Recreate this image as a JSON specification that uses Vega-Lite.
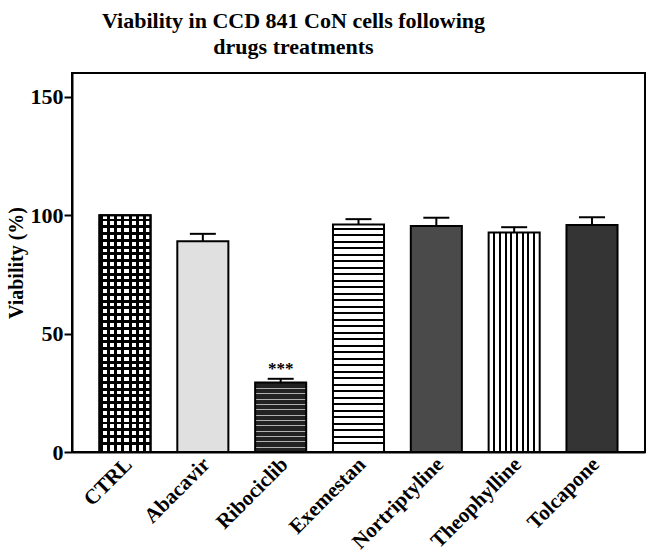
{
  "$schema": "https://vega.github.io/schema/vega-lite/v6.json",
  "autosize": "none",
  "width": 573,
  "height": 379,
  "padding": {"left": 72, "top": 73, "right": 5, "bottom": 105},
  "background": "white",
  "title": {
    "text": ["Viability in CCD 841 CoN cells following", "drugs treatments"],
    "font": "Liberation Serif",
    "fontSize": 22,
    "fontWeight": "bold",
    "lineHeight": 26,
    "color": "black",
    "anchor": "middle",
    "dx": -65,
    "offset": 14
  },
  "config": {
    "view": {"stroke": "black", "strokeWidth": 2},
    "font": "Liberation Serif",
    "axis": {
      "labelFont": "Liberation Serif",
      "titleFont": "Liberation Serif",
      "labelFontWeight": "bold",
      "titleFontWeight": "bold",
      "labelColor": "black",
      "titleColor": "black",
      "domainColor": "black",
      "tickColor": "black",
      "domainWidth": 2,
      "tickWidth": 2,
      "grid": false
    }
  },
  "data": {
    "values": [
      {"drug": "CTRL", "value": 100, "upper": null, "sig": ""},
      {"drug": "Abacavir", "value": 89, "upper": 92.1, "sig": ""},
      {"drug": "Ribociclib", "value": 29.3, "upper": 30.9, "sig": "***"},
      {"drug": "Exemestan", "value": 96, "upper": 98.3, "sig": ""},
      {"drug": "Nortriptyline", "value": 95.4, "upper": 98.9, "sig": ""},
      {"drug": "Theophylline", "value": 92.7, "upper": 94.9, "sig": ""},
      {"drug": "Tolcapone", "value": 95.8, "upper": 99.1, "sig": ""}
    ]
  },
  "encoding": {
    "x": {
      "field": "drug",
      "type": "nominal",
      "sort": null,
      "scale": {"paddingInner": 0.344, "paddingOuter": 0.353},
      "axis": {
        "title": null,
        "labelAngle": -45,
        "labelAlign": "right",
        "labelBaseline": "middle",
        "labelFontSize": 21,
        "labelPadding": 9,
        "labelOffset": 4,
        "ticks": false,
        "domain": true
      }
    }
  },
  "layer": [
    {
      "mark": {"type": "bar", "stroke": "black", "strokeWidth": 2},
      "encoding": {
        "y": {
          "field": "value",
          "type": "quantitative",
          "scale": {"domain": [0, 150]},
          "axis": {
            "values": [0, 50, 100, 150],
            "title": "Viability (%)",
            "titleFontSize": 20,
            "titlePadding": 4,
            "labelFontSize": 22,
            "tickSize": 8,
            "labelPadding": 1
          }
        },
        "fill": {
          "condition": [
            {"test": "datum.drug === 'CTRL'", "value": {
              "gradient": "linear", "x1": 0, "y1": 0, "x2": 1, "y2": 0,
              "stops": [
                {"offset": 0, "color": "black"}, {"offset": 0.06, "color": "black"}, {"offset": 0.06, "color": "white"},
                {"offset": 0.1429, "color": "white"}, {"offset": 0.1429, "color": "black"}, {"offset": 0.2029, "color": "black"}, {"offset": 0.2029, "color": "white"},
                {"offset": 0.2857, "color": "white"}, {"offset": 0.2857, "color": "black"}, {"offset": 0.3457, "color": "black"}, {"offset": 0.3457, "color": "white"},
                {"offset": 0.4286, "color": "white"}, {"offset": 0.4286, "color": "black"}, {"offset": 0.4886, "color": "black"}, {"offset": 0.4886, "color": "white"},
                {"offset": 0.5714, "color": "white"}, {"offset": 0.5714, "color": "black"}, {"offset": 0.6314, "color": "black"}, {"offset": 0.6314, "color": "white"},
                {"offset": 0.7143, "color": "white"}, {"offset": 0.7143, "color": "black"}, {"offset": 0.7743, "color": "black"}, {"offset": 0.7743, "color": "white"},
                {"offset": 0.8571, "color": "white"}, {"offset": 0.8571, "color": "black"}, {"offset": 0.9171, "color": "black"}, {"offset": 0.9171, "color": "white"},
                {"offset": 1, "color": "white"}
              ]
            }},
            {"test": "datum.drug === 'Abacavir'", "value": "#e0e0e0"},
            {"test": "datum.drug === 'Ribociclib'", "value": {
              "gradient": "linear", "x1": 0, "y1": 0, "x2": 0, "y2": 1,
              "stops": [
                {"offset": 0, "color": "#222222"},
                {"offset": 0.0769, "color": "#222222"}, {"offset": 0.0769, "color": "#b0b0b0"}, {"offset": 0.0929, "color": "#b0b0b0"}, {"offset": 0.0929, "color": "#222222"},
                {"offset": 0.1538, "color": "#222222"}, {"offset": 0.1538, "color": "#b0b0b0"}, {"offset": 0.1698, "color": "#b0b0b0"}, {"offset": 0.1698, "color": "#222222"},
                {"offset": 0.2308, "color": "#222222"}, {"offset": 0.2308, "color": "#b0b0b0"}, {"offset": 0.2468, "color": "#b0b0b0"}, {"offset": 0.2468, "color": "#222222"},
                {"offset": 0.3077, "color": "#222222"}, {"offset": 0.3077, "color": "#b0b0b0"}, {"offset": 0.3237, "color": "#b0b0b0"}, {"offset": 0.3237, "color": "#222222"},
                {"offset": 0.3846, "color": "#222222"}, {"offset": 0.3846, "color": "#b0b0b0"}, {"offset": 0.4006, "color": "#b0b0b0"}, {"offset": 0.4006, "color": "#222222"},
                {"offset": 0.4615, "color": "#222222"}, {"offset": 0.4615, "color": "#b0b0b0"}, {"offset": 0.4775, "color": "#b0b0b0"}, {"offset": 0.4775, "color": "#222222"},
                {"offset": 0.5385, "color": "#222222"}, {"offset": 0.5385, "color": "#b0b0b0"}, {"offset": 0.5545, "color": "#b0b0b0"}, {"offset": 0.5545, "color": "#222222"},
                {"offset": 0.6154, "color": "#222222"}, {"offset": 0.6154, "color": "#b0b0b0"}, {"offset": 0.6314, "color": "#b0b0b0"}, {"offset": 0.6314, "color": "#222222"},
                {"offset": 0.6923, "color": "#222222"}, {"offset": 0.6923, "color": "#b0b0b0"}, {"offset": 0.7083, "color": "#b0b0b0"}, {"offset": 0.7083, "color": "#222222"},
                {"offset": 0.7692, "color": "#222222"}, {"offset": 0.7692, "color": "#b0b0b0"}, {"offset": 0.7852, "color": "#b0b0b0"}, {"offset": 0.7852, "color": "#222222"},
                {"offset": 0.8462, "color": "#222222"}, {"offset": 0.8462, "color": "#b0b0b0"}, {"offset": 0.8622, "color": "#b0b0b0"}, {"offset": 0.8622, "color": "#222222"},
                {"offset": 0.9231, "color": "#222222"}, {"offset": 0.9231, "color": "#b0b0b0"}, {"offset": 0.9391, "color": "#b0b0b0"}, {"offset": 0.9391, "color": "#222222"},
                {"offset": 1, "color": "#222222"}
              ]
            }},
            {"test": "datum.drug === 'Nortriptyline'", "value": "#4a4a4a"},
            {"test": "datum.drug === 'Tolcapone'", "value": "#343434"},
            {"test": "datum.drug === 'Exemestan'", "value": {
              "gradient": "linear", "x1": 0, "y1": 0, "x2": 0, "y2": 1,
              "stops": [
                {"offset": 0, "color": "white"},
                {"offset": 0.0143, "color": "white"}, {"offset": 0.0143, "color": "black"}, {"offset": 0.0233, "color": "black"}, {"offset": 0.0233, "color": "white"},
                {"offset": 0.0429, "color": "white"}, {"offset": 0.0429, "color": "black"}, {"offset": 0.0519, "color": "black"}, {"offset": 0.0519, "color": "white"},
                {"offset": 0.0714, "color": "white"}, {"offset": 0.0714, "color": "black"}, {"offset": 0.0804, "color": "black"}, {"offset": 0.0804, "color": "white"},
                {"offset": 0.1, "color": "white"}, {"offset": 0.1, "color": "black"}, {"offset": 0.109, "color": "black"}, {"offset": 0.109, "color": "white"},
                {"offset": 0.1286, "color": "white"}, {"offset": 0.1286, "color": "black"}, {"offset": 0.1376, "color": "black"}, {"offset": 0.1376, "color": "white"},
                {"offset": 0.1571, "color": "white"}, {"offset": 0.1571, "color": "black"}, {"offset": 0.1661, "color": "black"}, {"offset": 0.1661, "color": "white"},
                {"offset": 0.1857, "color": "white"}, {"offset": 0.1857, "color": "black"}, {"offset": 0.1947, "color": "black"}, {"offset": 0.1947, "color": "white"},
                {"offset": 0.2143, "color": "white"}, {"offset": 0.2143, "color": "black"}, {"offset": 0.2233, "color": "black"}, {"offset": 0.2233, "color": "white"},
                {"offset": 0.2429, "color": "white"}, {"offset": 0.2429, "color": "black"}, {"offset": 0.2519, "color": "black"}, {"offset": 0.2519, "color": "white"},
                {"offset": 0.2714, "color": "white"}, {"offset": 0.2714, "color": "black"}, {"offset": 0.2804, "color": "black"}, {"offset": 0.2804, "color": "white"},
                {"offset": 0.3, "color": "white"}, {"offset": 0.3, "color": "black"}, {"offset": 0.309, "color": "black"}, {"offset": 0.309, "color": "white"},
                {"offset": 0.3286, "color": "white"}, {"offset": 0.3286, "color": "black"}, {"offset": 0.3376, "color": "black"}, {"offset": 0.3376, "color": "white"},
                {"offset": 0.3571, "color": "white"}, {"offset": 0.3571, "color": "black"}, {"offset": 0.3661, "color": "black"}, {"offset": 0.3661, "color": "white"},
                {"offset": 0.3857, "color": "white"}, {"offset": 0.3857, "color": "black"}, {"offset": 0.3947, "color": "black"}, {"offset": 0.3947, "color": "white"},
                {"offset": 0.4143, "color": "white"}, {"offset": 0.4143, "color": "black"}, {"offset": 0.4233, "color": "black"}, {"offset": 0.4233, "color": "white"},
                {"offset": 0.4429, "color": "white"}, {"offset": 0.4429, "color": "black"}, {"offset": 0.4519, "color": "black"}, {"offset": 0.4519, "color": "white"},
                {"offset": 0.4714, "color": "white"}, {"offset": 0.4714, "color": "black"}, {"offset": 0.4804, "color": "black"}, {"offset": 0.4804, "color": "white"},
                {"offset": 0.5, "color": "white"}, {"offset": 0.5, "color": "black"}, {"offset": 0.509, "color": "black"}, {"offset": 0.509, "color": "white"},
                {"offset": 0.5286, "color": "white"}, {"offset": 0.5286, "color": "black"}, {"offset": 0.5376, "color": "black"}, {"offset": 0.5376, "color": "white"},
                {"offset": 0.5571, "color": "white"}, {"offset": 0.5571, "color": "black"}, {"offset": 0.5661, "color": "black"}, {"offset": 0.5661, "color": "white"},
                {"offset": 0.5857, "color": "white"}, {"offset": 0.5857, "color": "black"}, {"offset": 0.5947, "color": "black"}, {"offset": 0.5947, "color": "white"},
                {"offset": 0.6143, "color": "white"}, {"offset": 0.6143, "color": "black"}, {"offset": 0.6233, "color": "black"}, {"offset": 0.6233, "color": "white"},
                {"offset": 0.6429, "color": "white"}, {"offset": 0.6429, "color": "black"}, {"offset": 0.6519, "color": "black"}, {"offset": 0.6519, "color": "white"},
                {"offset": 0.6714, "color": "white"}, {"offset": 0.6714, "color": "black"}, {"offset": 0.6804, "color": "black"}, {"offset": 0.6804, "color": "white"},
                {"offset": 0.7, "color": "white"}, {"offset": 0.7, "color": "black"}, {"offset": 0.709, "color": "black"}, {"offset": 0.709, "color": "white"},
                {"offset": 0.7286, "color": "white"}, {"offset": 0.7286, "color": "black"}, {"offset": 0.7376, "color": "black"}, {"offset": 0.7376, "color": "white"},
                {"offset": 0.7571, "color": "white"}, {"offset": 0.7571, "color": "black"}, {"offset": 0.7661, "color": "black"}, {"offset": 0.7661, "color": "white"},
                {"offset": 0.7857, "color": "white"}, {"offset": 0.7857, "color": "black"}, {"offset": 0.7947, "color": "black"}, {"offset": 0.7947, "color": "white"},
                {"offset": 0.8143, "color": "white"}, {"offset": 0.8143, "color": "black"}, {"offset": 0.8233, "color": "black"}, {"offset": 0.8233, "color": "white"},
                {"offset": 0.8429, "color": "white"}, {"offset": 0.8429, "color": "black"}, {"offset": 0.8519, "color": "black"}, {"offset": 0.8519, "color": "white"},
                {"offset": 0.8714, "color": "white"}, {"offset": 0.8714, "color": "black"}, {"offset": 0.8804, "color": "black"}, {"offset": 0.8804, "color": "white"},
                {"offset": 0.9, "color": "white"}, {"offset": 0.9, "color": "black"}, {"offset": 0.909, "color": "black"}, {"offset": 0.909, "color": "white"},
                {"offset": 0.9286, "color": "white"}, {"offset": 0.9286, "color": "black"}, {"offset": 0.9376, "color": "black"}, {"offset": 0.9376, "color": "white"},
                {"offset": 0.9571, "color": "white"}, {"offset": 0.9571, "color": "black"}, {"offset": 0.9661, "color": "black"}, {"offset": 0.9661, "color": "white"},
                {"offset": 1, "color": "white"}
              ]
            }},
            {"test": "datum.drug === 'Theophylline'", "value": {
              "gradient": "linear", "x1": 0, "y1": 0, "x2": 1, "y2": 0,
              "stops": [
                {"offset": 0, "color": "white"},
                {"offset": 0.0911, "color": "white"}, {"offset": 0.0911, "color": "black"}, {"offset": 0.1311, "color": "black"}, {"offset": 0.1311, "color": "white"},
                {"offset": 0.2022, "color": "white"}, {"offset": 0.2022, "color": "black"}, {"offset": 0.2422, "color": "black"}, {"offset": 0.2422, "color": "white"},
                {"offset": 0.3133, "color": "white"}, {"offset": 0.3133, "color": "black"}, {"offset": 0.3533, "color": "black"}, {"offset": 0.3533, "color": "white"},
                {"offset": 0.4244, "color": "white"}, {"offset": 0.4244, "color": "black"}, {"offset": 0.4644, "color": "black"}, {"offset": 0.4644, "color": "white"},
                {"offset": 0.5356, "color": "white"}, {"offset": 0.5356, "color": "black"}, {"offset": 0.5756, "color": "black"}, {"offset": 0.5756, "color": "white"},
                {"offset": 0.6467, "color": "white"}, {"offset": 0.6467, "color": "black"}, {"offset": 0.6867, "color": "black"}, {"offset": 0.6867, "color": "white"},
                {"offset": 0.7578, "color": "white"}, {"offset": 0.7578, "color": "black"}, {"offset": 0.7978, "color": "black"}, {"offset": 0.7978, "color": "white"},
                {"offset": 0.8689, "color": "white"}, {"offset": 0.8689, "color": "black"}, {"offset": 0.9089, "color": "black"}, {"offset": 0.9089, "color": "white"},
                {"offset": 1, "color": "white"}
              ]
            }}
          ],
          "value": "white"
        }
      }
    },
    {
      "transform": [{"filter": "datum.drug === 'CTRL'"}],
      "mark": {
        "type": "bar", "stroke": "black", "strokeWidth": 2,
        "fill": {
          "gradient": "linear", "x1": 0, "y1": 0, "x2": 0, "y2": 1,
          "stops": [
            {"offset": 0, "color": "transparent"},
            {"offset": 0.0143, "color": "transparent"}, {"offset": 0.0143, "color": "black"}, {"offset": 0.0268, "color": "black"}, {"offset": 0.0268, "color": "transparent"},
            {"offset": 0.0429, "color": "transparent"}, {"offset": 0.0429, "color": "black"}, {"offset": 0.0554, "color": "black"}, {"offset": 0.0554, "color": "transparent"},
            {"offset": 0.0714, "color": "transparent"}, {"offset": 0.0714, "color": "black"}, {"offset": 0.0839, "color": "black"}, {"offset": 0.0839, "color": "transparent"},
            {"offset": 0.1, "color": "transparent"}, {"offset": 0.1, "color": "black"}, {"offset": 0.1125, "color": "black"}, {"offset": 0.1125, "color": "transparent"},
            {"offset": 0.1286, "color": "transparent"}, {"offset": 0.1286, "color": "black"}, {"offset": 0.1411, "color": "black"}, {"offset": 0.1411, "color": "transparent"},
            {"offset": 0.1571, "color": "transparent"}, {"offset": 0.1571, "color": "black"}, {"offset": 0.1696, "color": "black"}, {"offset": 0.1696, "color": "transparent"},
            {"offset": 0.1857, "color": "transparent"}, {"offset": 0.1857, "color": "black"}, {"offset": 0.1982, "color": "black"}, {"offset": 0.1982, "color": "transparent"},
            {"offset": 0.2143, "color": "transparent"}, {"offset": 0.2143, "color": "black"}, {"offset": 0.2268, "color": "black"}, {"offset": 0.2268, "color": "transparent"},
            {"offset": 0.2429, "color": "transparent"}, {"offset": 0.2429, "color": "black"}, {"offset": 0.2554, "color": "black"}, {"offset": 0.2554, "color": "transparent"},
            {"offset": 0.2714, "color": "transparent"}, {"offset": 0.2714, "color": "black"}, {"offset": 0.2839, "color": "black"}, {"offset": 0.2839, "color": "transparent"},
            {"offset": 0.3, "color": "transparent"}, {"offset": 0.3, "color": "black"}, {"offset": 0.3125, "color": "black"}, {"offset": 0.3125, "color": "transparent"},
            {"offset": 0.3286, "color": "transparent"}, {"offset": 0.3286, "color": "black"}, {"offset": 0.3411, "color": "black"}, {"offset": 0.3411, "color": "transparent"},
            {"offset": 0.3571, "color": "transparent"}, {"offset": 0.3571, "color": "black"}, {"offset": 0.3696, "color": "black"}, {"offset": 0.3696, "color": "transparent"},
            {"offset": 0.3857, "color": "transparent"}, {"offset": 0.3857, "color": "black"}, {"offset": 0.3982, "color": "black"}, {"offset": 0.3982, "color": "transparent"},
            {"offset": 0.4143, "color": "transparent"}, {"offset": 0.4143, "color": "black"}, {"offset": 0.4268, "color": "black"}, {"offset": 0.4268, "color": "transparent"},
            {"offset": 0.4429, "color": "transparent"}, {"offset": 0.4429, "color": "black"}, {"offset": 0.4554, "color": "black"}, {"offset": 0.4554, "color": "transparent"},
            {"offset": 0.4714, "color": "transparent"}, {"offset": 0.4714, "color": "black"}, {"offset": 0.4839, "color": "black"}, {"offset": 0.4839, "color": "transparent"},
            {"offset": 0.5, "color": "transparent"}, {"offset": 0.5, "color": "black"}, {"offset": 0.5125, "color": "black"}, {"offset": 0.5125, "color": "transparent"},
            {"offset": 0.5286, "color": "transparent"}, {"offset": 0.5286, "color": "black"}, {"offset": 0.5411, "color": "black"}, {"offset": 0.5411, "color": "transparent"},
            {"offset": 0.5571, "color": "transparent"}, {"offset": 0.5571, "color": "black"}, {"offset": 0.5696, "color": "black"}, {"offset": 0.5696, "color": "transparent"},
            {"offset": 0.5857, "color": "transparent"}, {"offset": 0.5857, "color": "black"}, {"offset": 0.5982, "color": "black"}, {"offset": 0.5982, "color": "transparent"},
            {"offset": 0.6143, "color": "transparent"}, {"offset": 0.6143, "color": "black"}, {"offset": 0.6268, "color": "black"}, {"offset": 0.6268, "color": "transparent"},
            {"offset": 0.6429, "color": "transparent"}, {"offset": 0.6429, "color": "black"}, {"offset": 0.6554, "color": "black"}, {"offset": 0.6554, "color": "transparent"},
            {"offset": 0.6714, "color": "transparent"}, {"offset": 0.6714, "color": "black"}, {"offset": 0.6839, "color": "black"}, {"offset": 0.6839, "color": "transparent"},
            {"offset": 0.7, "color": "transparent"}, {"offset": 0.7, "color": "black"}, {"offset": 0.7125, "color": "black"}, {"offset": 0.7125, "color": "transparent"},
            {"offset": 0.7286, "color": "transparent"}, {"offset": 0.7286, "color": "black"}, {"offset": 0.7411, "color": "black"}, {"offset": 0.7411, "color": "transparent"},
            {"offset": 0.7571, "color": "transparent"}, {"offset": 0.7571, "color": "black"}, {"offset": 0.7696, "color": "black"}, {"offset": 0.7696, "color": "transparent"},
            {"offset": 0.7857, "color": "transparent"}, {"offset": 0.7857, "color": "black"}, {"offset": 0.7982, "color": "black"}, {"offset": 0.7982, "color": "transparent"},
            {"offset": 0.8143, "color": "transparent"}, {"offset": 0.8143, "color": "black"}, {"offset": 0.8268, "color": "black"}, {"offset": 0.8268, "color": "transparent"},
            {"offset": 0.8429, "color": "transparent"}, {"offset": 0.8429, "color": "black"}, {"offset": 0.8554, "color": "black"}, {"offset": 0.8554, "color": "transparent"},
            {"offset": 0.8714, "color": "transparent"}, {"offset": 0.8714, "color": "black"}, {"offset": 0.8839, "color": "black"}, {"offset": 0.8839, "color": "transparent"},
            {"offset": 0.9, "color": "transparent"}, {"offset": 0.9, "color": "black"}, {"offset": 0.9125, "color": "black"}, {"offset": 0.9125, "color": "transparent"},
            {"offset": 0.9286, "color": "transparent"}, {"offset": 0.9286, "color": "black"}, {"offset": 0.9411, "color": "black"}, {"offset": 0.9411, "color": "transparent"},
            {"offset": 0.9571, "color": "transparent"}, {"offset": 0.9571, "color": "black"}, {"offset": 0.9696, "color": "black"}, {"offset": 0.9696, "color": "transparent"},
            {"offset": 1, "color": "transparent"}
          ]
        }
      },
      "encoding": {
        "y": {"field": "value", "type": "quantitative"}
      }
    },
    {
      "transform": [{"filter": "datum.upper != null"}],
      "mark": {"type": "rule", "color": "black", "strokeWidth": 2},
      "encoding": {
        "y": {"field": "value", "type": "quantitative"},
        "y2": {"field": "upper"}
      }
    },
    {
      "transform": [{"filter": "datum.upper != null"}],
      "mark": {"type": "tick", "color": "black", "thickness": 2, "size": 26, "opacity": 1},
      "encoding": {
        "y": {"field": "upper", "type": "quantitative"}
      }
    },
    {
      "transform": [{"filter": "datum.sig != ''"}],
      "mark": {"type": "text", "font": "Liberation Serif", "fontWeight": "bold", "fontSize": 17, "baseline": "bottom", "dy": -1, "color": "black"},
      "encoding": {
        "y": {"field": "upper", "type": "quantitative"},
        "text": {"field": "sig"}
      }
    }
  ]
}
